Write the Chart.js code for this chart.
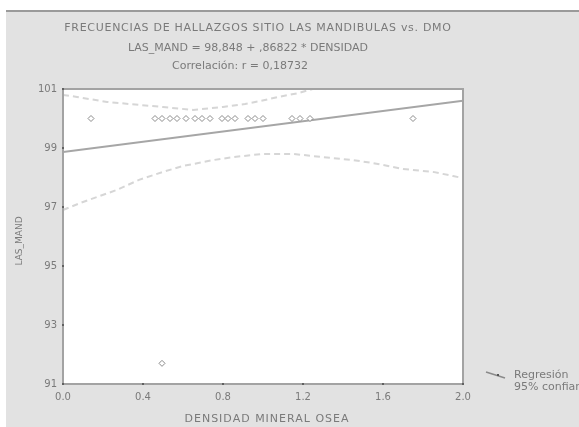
<!DOCTYPE html>
<html>
<head>
<meta charset="utf-8">
<script src="https://cdn.jsdelivr.net/npm/chart.js@4.4.1/dist/chart.umd.min.js"></script>
<style>
  html, body { margin: 0; padding: 0; background: #fff; }
  canvas { display: block; }
</style>
</head>
<body>
<canvas id="chart" width="579" height="427"></canvas>
<script>
// Observed points (densidad, LAS_MAND)
const densidad = [0.14, 0.46, 0.495, 0.535, 0.57, 0.615, 0.66, 0.695, 0.735, 0.795,
                  0.825, 0.86, 0.925, 0.96, 1.0, 1.145, 1.185, 1.235, 1.75, 0.495];
const lasMand = [100, 100, 100, 100, 100, 100, 100, 100, 100, 100,
                 100, 100, 100, 100, 100, 100, 100, 100, 100, 91.7];

// Regression line endpoints
const regX = [0.0, 2.0];
const regY = [98.86, 100.6];

// 95% confidence band
const upperX = [0.0, 0.07, 0.22, 0.335, 0.5, 0.65, 0.8, 0.91, 0.985, 1.075, 1.175, 1.3, 1.6, 2.0];
const upperY = [100.8, 100.73, 100.56, 100.49, 100.39, 100.29, 100.39, 100.49, 100.59, 100.73, 100.86, 101.1, 101.9, 103.1];
const lowerX = [0.0, 0.1, 0.27, 0.38, 0.5, 0.6, 0.75, 0.85, 1.0, 1.15, 1.3, 1.45, 1.55, 1.7, 1.85, 1.95, 2.0];
const lowerY = [96.9, 97.17, 97.58, 97.92, 98.19, 98.39, 98.59, 98.69, 98.8, 98.8, 98.69, 98.59, 98.49, 98.29, 98.19, 98.05, 97.98];

const xTicks = [0.0, 0.4, 0.8, 1.2, 1.6, 2.0];
const yTicks = [91, 93, 95, 97, 99, 101];

const titleLines = [
  "FRECUENCIAS DE HALLAZGOS SITIO LAS MANDIBULAS vs. DMO",
  "LAS_MAND = 98,848 + ,86822 * DENSIDAD",
  "Correlación: r = 0,18732"
];
const xTitle = "DENSIDAD MINERAL OSEA";
const yTitle = "LAS_MAND";
const legendLabels = ["Regresión", "95% confianza"];

const pair = (xs, ys) => xs.map((x, i) => ({ x: x, y: ys[i] }));

const FONT = "'DejaVu Sans', Verdana, sans-serif";
const TEXT = "#7a7a7a";
const AXIS = "#a3a3a3";

// Background, frame, titles and legend drawn around the plot
const decor = {
  id: "decor",
  beforeDraw(chart) {
    const ctx = chart.ctx;
    const a = chart.chartArea;
    ctx.save();
    ctx.fillStyle = "#ffffff";
    ctx.fillRect(0, 0, chart.width, chart.height);
    ctx.fillStyle = "#e2e2e2";
    ctx.fillRect(6, 10, chart.width - 6, chart.height - 10);
    ctx.fillStyle = "#9a9a9a";
    ctx.fillRect(6, 10, chart.width - 6, 2);
    ctx.fillStyle = "#ffffff";
    ctx.fillRect(a.left, a.top, a.right - a.left, a.bottom - a.top);
    ctx.restore();
  },
  afterDraw(chart) {
    const ctx = chart.ctx;
    const a = chart.chartArea;
    ctx.save();
    ctx.strokeStyle = AXIS;
    ctx.lineWidth = 2;
    ctx.strokeRect(a.left, a.top, a.right - a.left, a.bottom - a.top);

    // small tick marks on the axes
    ctx.fillStyle = "#606060";
    const xs = chart.scales.x, ys = chart.scales.y;
    xTicks.forEach(v => ctx.fillRect(xs.getPixelForValue(v) - 1, a.bottom - 1, 2, 2));
    yTicks.forEach(v => ctx.fillRect(a.left - 1, ys.getPixelForValue(v) - 1, 2, 2));

    ctx.fillStyle = TEXT;
    ctx.textBaseline = "middle";
    ctx.textAlign = "center";
    ctx.font = "11px " + FONT;
    ctx.letterSpacing = "0.7px";
    ctx.fillText(titleLines[0], 258, 28);
    ctx.letterSpacing = "0px";
    ctx.fillText(titleLines[1], 248, 48);
    ctx.fillText(titleLines[2], 240, 66);

    ctx.font = "11px " + FONT;
    ctx.letterSpacing = "1px";
    ctx.fillText(xTitle, 267, 419);
    ctx.letterSpacing = "0px";
    ctx.font = "9px " + FONT;
    ctx.translate(20, 241);
    ctx.rotate(-Math.PI / 2);
    ctx.fillText(yTitle, 0, 0);
    ctx.setTransform(1, 0, 0, 1, 0, 0);

    // legend
    ctx.strokeStyle = "#8a8a8a";
    ctx.lineWidth = 1.5;
    ctx.beginPath();
    ctx.moveTo(486, 372);
    ctx.lineTo(505, 378);
    ctx.stroke();
    ctx.fillStyle = "#555";
    ctx.fillRect(497, 374, 2, 2);
    ctx.fillStyle = TEXT;
    ctx.textAlign = "left";
    ctx.font = "11px " + FONT;
    ctx.fillText(legendLabels[0], 514, 375);
    ctx.fillText(legendLabels[1], 514, 387);
    ctx.restore();
  }
};

new Chart(document.getElementById("chart"), {
  type: "scatter",
  data: {
    datasets: [
      {
        label: "LAS_MAND",
        data: pair(densidad, lasMand),
        pointStyle: "rectRot",
        pointRadius: 3,
        pointBorderWidth: 1,
        pointBorderColor: "#8c8c8c",
        pointBackgroundColor: "#ffffff",
        order: 0
      },
      {
        label: "Regresión",
        data: pair(regX, regY),
        showLine: true,
        borderColor: "#a6a6a6",
        borderWidth: 2,
        pointRadius: 0,
        clip: 0,
        order: 1
      },
      {
        label: "95% sup",
        data: pair(upperX, upperY),
        showLine: true,
        borderColor: "#d6d6d6",
        borderWidth: 2,
        borderDash: [6, 4],
        pointRadius: 0,
        clip: 0,
        order: 2
      },
      {
        label: "95% inf",
        data: pair(lowerX, lowerY),
        showLine: true,
        borderColor: "#d6d6d6",
        borderWidth: 2,
        borderDash: [6, 4],
        pointRadius: 0,
        clip: 0,
        order: 2
      }
    ]
  },
  options: {
    responsive: false,
    animation: false,
    devicePixelRatio: 1,
    layout: { padding: { top: 89, right: 116, left: 0, bottom: 0 } },
    plugins: {
      legend: { display: false },
      tooltip: { enabled: false }
    },
    scales: {
      x: {
        type: "linear",
        min: 0,
        max: 2,
        afterFit: s => { s.height = 43; },
        afterBuildTicks: s => { s.ticks = xTicks.map(v => ({ value: v })); },
        grid: { display: false, tickLength: 0 },
        border: { display: false },
        ticks: {
          color: TEXT,
          font: { family: FONT, size: 10 },
          padding: 7,
          callback: v => v.toFixed(1)
        }
      },
      y: {
        type: "linear",
        min: 91,
        max: 101,
        afterFit: s => { s.width = 63; },
        afterBuildTicks: s => { s.ticks = yTicks.map(v => ({ value: v })); },
        grid: { display: false, tickLength: 0 },
        border: { display: false },
        ticks: {
          color: TEXT,
          font: { family: FONT, size: 10 },
          padding: 6,
          callback: v => String(v)
        }
      }
    }
  },
  plugins: [decor]
});
</script>
</body>
</html>
